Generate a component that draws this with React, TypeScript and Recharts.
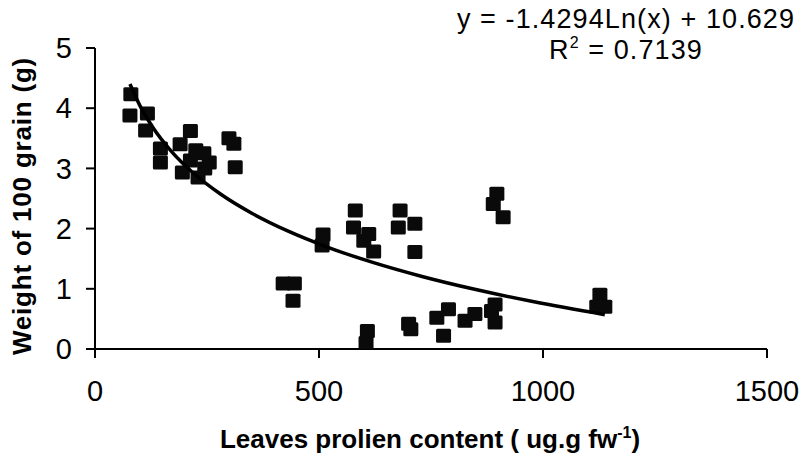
import React from 'react';
import { ScatterChart, Scatter, XAxis, YAxis, Label } from 'recharts';

// leaves proline content (ug/g fw) vs weight of 100 grain (g)
const prolineX = [
  80, 78, 117, 113, 146, 146, 213, 190, 195, 213, 225, 230, 243, 245, 255, 299, 310, 313,
  420, 445, 442, 509, 507,
  581, 577, 600, 611, 622, 608, 605,
  681, 677, 714, 714, 700, 705,
  778, 763, 789, 826, 848, 885, 893, 893,
  897, 889, 911,
  1127, 1120, 1138,
];
const grainWeight = [
  4.23, 3.88, 3.91, 3.63, 3.33, 3.1, 3.62, 3.4, 2.93, 3.13, 3.3, 2.85, 3.25, 3.0, 3.1, 3.5, 3.41, 3.02,
  1.09, 1.09, 0.8, 1.9, 1.72,
  2.3, 2.02, 1.8, 1.91, 1.62, 0.3, 0.1,
  2.3, 2.02, 2.08, 1.61, 0.42, 0.33,
  0.22, 0.52, 0.66, 0.47, 0.58, 0.63, 0.44, 0.74,
  2.58, 2.41, 2.19,
  0.9, 0.7, 0.7,
];

// logarithmic trendline as printed on the chart
const TREND_SLOPE = -1.4294;
const TREND_INTERCEPT = 10.629;
const trendX = [78, 100, 130, 170, 220, 280, 350, 430, 520, 620, 730, 850, 980, 1138];

const xTicks = [0, 500, 1000, 1500];
const yTicks = [0, 1, 2, 3, 4, 5];

const points = prolineX.map((x, i) => ({ x, y: grainWeight[i] }));
const trend = trendX.map((x) => ({ x, y: TREND_SLOPE * Math.log(x) + TREND_INTERCEPT }));

const FONT = '"Liberation Sans", Arial, Helvetica, sans-serif';

const SquareDot = (props: any) => {
  const { cx, cy } = props;
  if (cx == null || cy == null) return <g />;
  return <rect x={cx - 7.5} y={cy - 7} width={15} height={14} rx={1.5} fill="#0a0a0a" />;
};

const NoDot = () => <g />;

const tickStyle = { fill: '#000', fontSize: 29, fontFamily: FONT };

export default function App() {
  return (
    <div style={{ position: 'relative', width: 804, height: 464, background: '#fff' }}>
      <style>{`body{margin:0;background:#fff}`}</style>
      <ScatterChart width={804} height={464} margin={{ top: 48, right: 37, bottom: 0, left: 0 }}>
        <XAxis
          type="number"
          dataKey="x"
          domain={[0, 1500]}
          ticks={xTicks}
          height={115}
          stroke="#000"
          strokeWidth={2}
          tickSize={9}
          tickMargin={22}
          tick={tickStyle}
          allowDataOverflow
        >
          <Label
            content={() => (
              <text x={430} y={448} textAnchor="middle" fontFamily={FONT} fontWeight="bold" fontSize={26} fill="#000">
                Leaves prolien content ( ug.g fw
                <tspan dy={-10} fontSize={16}>-1</tspan>
                <tspan dy={10}>)</tspan>
              </text>
            )}
          />
        </XAxis>
        <YAxis
          type="number"
          dataKey="y"
          domain={[0, 5]}
          ticks={yTicks}
          width={95}
          stroke="#000"
          strokeWidth={2}
          tickSize={9}
          tickMargin={14}
          tick={tickStyle}
          allowDataOverflow
        >
          <Label
            content={() => (
              <text
                x={22}
                y={206}
                transform="rotate(-90 22 206)"
                textAnchor="middle"
                dominantBaseline="central"
                fontFamily={FONT}
                fontWeight="bold"
                fontSize={26}
                letterSpacing={0.8}
                fill="#000"
              >
                Weight of 100 grain (g)
              </text>
            )}
          />
        </YAxis>
        <Scatter data={points} shape={SquareDot} isAnimationActive={false} />
        <Scatter
          data={trend}
          shape={NoDot}
          line={{ stroke: '#000', strokeWidth: 3.5 }}
          lineJointType="monotoneX"
          isAnimationActive={false}
        />
      </ScatterChart>
      <div
        style={{
          position: 'absolute',
          left: 445,
          top: 4,
          width: 362,
          textAlign: 'center',
          fontFamily: FONT,
          fontSize: 27,
          lineHeight: '31px',
          color: '#000',
          letterSpacing: 1.1,
        }}
      >
        <div>y = -1.4294Ln(x) + 10.629</div>
        <div>
          R<sup style={{ fontSize: 16, verticalAlign: 'top', lineHeight: '16px' }}>2</sup> = 0.7139
        </div>
      </div>
    </div>
  );
}
